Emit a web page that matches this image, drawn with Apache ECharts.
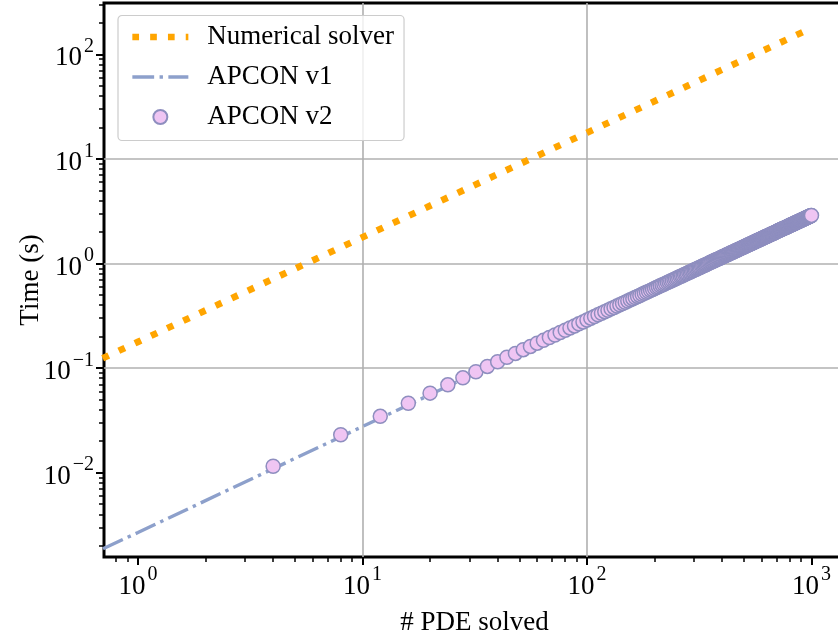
<!DOCTYPE html>
<html>
<head>
<meta charset="utf-8">
<script src="https://cdn.jsdelivr.net/npm/echarts@6/dist/echarts.min.js"></script>
<style>html,body{margin:0;padding:0;background:#fff}#c{width:838px;height:633px}</style>
</head>
<body>
<div id="c"></div>
<script>
// ---- data ----
const solverX = [0.5, 1, 10, 100, 1000];
const solverY = [0.089, 0.178, 1.78, 17.8, 178];
const v1X = [0.5, 1, 10, 100, 1000];
const v1Y = [0.00134, 0.00268, 0.0276, 0.284, 2.88];
const v2X = [4,8,12,16,20,24,28,32,36,40,44,48,52,56,60,64,68,72,76,80,84,88,92,96,100,
104,108,112,116,120,124,128,132,136,140,144,148,152,156,160,164,168,172,176,180,184,188,192,196,200,
204,208,212,216,220,224,228,232,236,240,244,248,252,256,260,264,268,272,276,280,284,288,292,296,300,
304,308,312,316,320,324,328,332,336,340,344,348,352,356,360,364,368,372,376,380,384,388,392,396,400,
404,408,412,416,420,424,428,432,436,440,444,448,452,456,460,464,468,472,476,480,484,488,492,496,500,
504,508,512,516,520,524,528,532,536,540,544,548,552,556,560,564,568,572,576,580,584,588,592,596,600,
604,608,612,616,620,624,628,632,636,640,644,648,652,656,660,664,668,672,676,680,684,688,692,696,700,
704,708,712,716,720,724,728,732,736,740,744,748,752,756,760,764,768,772,776,780,784,788,792,796,800,
804,808,812,816,820,824,828,832,836,840,844,848,852,856,860,864,868,872,876,880,884,888,892,896,900,
904,908,912,916,920,924,928,932,936,940,944,948,952,956,960,964,968,972,976,980,984,988,992,996,1000];
const v2Y = [0.01152,0.02304,0.03456,0.04608,0.0576,0.06912,0.08064,0.09216,0.1037,0.115,0.127,0.138,0.150,0.161,0.173,0.184,0.196,0.207,0.219,0.230,0.242,0.253,0.265,0.276,0.288,
0.300,0.311,0.323,0.334,0.346,0.357,0.369,0.380,0.392,0.403,0.415,0.426,0.438,0.449,0.461,0.472,0.484,0.495,0.507,0.518,0.530,0.541,0.553,0.564,0.576,
0.588,0.599,0.611,0.622,0.634,0.645,0.657,0.668,0.680,0.691,0.703,0.714,0.726,0.737,0.749,0.760,0.772,0.783,0.795,0.806,0.818,0.829,0.841,0.852,0.864,
0.876,0.887,0.899,0.910,0.922,0.933,0.945,0.956,0.968,0.979,0.991,1.002,1.014,1.025,1.037,1.048,1.060,1.071,1.083,1.094,1.106,1.117,1.129,1.140,1.152,
1.164,1.175,1.187,1.198,1.210,1.221,1.233,1.244,1.256,1.267,1.279,1.290,1.302,1.313,1.325,1.336,1.348,1.359,1.371,1.382,1.394,1.405,1.417,1.428,1.440,
1.452,1.463,1.475,1.486,1.498,1.509,1.521,1.532,1.544,1.555,1.567,1.578,1.590,1.601,1.613,1.624,1.636,1.647,1.659,1.670,1.682,1.693,1.705,1.716,1.728,
1.740,1.751,1.763,1.774,1.786,1.797,1.809,1.820,1.832,1.843,1.855,1.866,1.878,1.889,1.901,1.912,1.924,1.935,1.947,1.958,1.970,1.981,1.993,2.004,2.016,
2.028,2.039,2.051,2.062,2.074,2.085,2.097,2.108,2.120,2.131,2.143,2.154,2.166,2.177,2.189,2.200,2.212,2.223,2.235,2.246,2.258,2.269,2.281,2.292,2.304,
2.316,2.327,2.339,2.350,2.362,2.373,2.385,2.396,2.408,2.419,2.431,2.442,2.454,2.465,2.477,2.488,2.500,2.511,2.523,2.534,2.546,2.557,2.569,2.580,2.592,
2.604,2.615,2.627,2.638,2.650,2.661,2.673,2.684,2.696,2.707,2.719,2.730,2.742,2.753,2.765,2.776,2.788,2.799,2.811,2.822,2.834,2.845,2.857,2.868,2.880];
const xMajorTicks = [1, 10, 100, 1000];
const xMinorTicks = [0.8,0.9,2,3,4,5,6,7,8,9,20,30,40,50,60,70,80,90,200,300,400,500,600,700,800,900];
const yMajorTicks = [0.01, 0.1, 1, 10, 100];
const yMinorTicks = [0.002,0.003,0.004,0.005,0.006,0.007,0.008,0.009,0.02,0.03,0.04,0.05,0.06,0.07,0.08,0.09,
0.2,0.3,0.4,0.5,0.6,0.7,0.8,0.9,2,3,4,5,6,7,8,9,20,30,40,50,60,70,80,90,200,300];
const seriesNames = ['Numerical solver', 'APCON v1', 'APCON v2'];
const xName = '# PDE solved';
const yName = 'Time (s)';
const xMin = 0.7058, xMax = 1410, yMin = 0.001563, yMax = 309;

const FONT = '"Liberation Serif", "Times New Roman", serif';
const zip = (a, b) => a.map((v, i) => [v, b[i]]);
function powLabel(v) {
  const e = Math.round(Math.log10(v));
  return '{b|10}{s|' + (e < 0 ? '\u2212' + (-e) : String(e)) + '}';
}
const richLab = {
  b: { fontSize: 27, fontFamily: FONT, color: '#000', padding: [8, 0, 0, 0], verticalAlign: 'bottom' },
  s: { fontSize: 20, fontFamily: FONT, color: '#000', verticalAlign: 'top', padding: [0, 0, 0, 2] }
};

const chart = echarts.init(document.getElementById('c'), null, { renderer: 'canvas' });
chart.setOption({
  animation: false,
  backgroundColor: '#fff',
  grid: {
    left: 104, top: 3, width: 741, height: 554,
    show: true, borderColor: '#000', borderWidth: 3, backgroundColor: 'transparent',
    outerBoundsMode: 'none', containLabel: false
  },
  legend: {
    orient: 'vertical', left: 118, top: 15.5,
    padding: [8, 10, 10, 11],
    itemWidth: 56, itemHeight: 14, itemGap: 13,
    backgroundColor: 'rgba(255,255,255,0.8)', borderColor: '#cccccc', borderWidth: 1.2, borderRadius: 4,
    textStyle: { fontSize: 27, fontFamily: FONT, color: '#000', padding: [0, 0, 0, 14] },
    data: [
      { name: seriesNames[0], lineStyle: { width: 6.7 }, itemStyle: { opacity: 0 } },
      { name: seriesNames[1], lineStyle: { width: 3.4 }, itemStyle: { opacity: 0 } },
      { name: seriesNames[2] }
    ]
  },
  xAxis: [{
    type: 'log', logBase: 10, min: xMin, max: xMax, gridIndex: 0, position: 'bottom',
    name: xName, nameLocation: 'middle', nameGap: 52,
    nameTextStyle: { fontSize: 27, fontFamily: FONT, color: '#000' },
    axisLine: { show: false },
    axisTick: { show: true, customValues: xMajorTicks, length: 8, lineStyle: { color: '#000', width: 2 } },
    axisLabel: { show: true, customValues: xMajorTicks, margin: 8, formatter: powLabel, rich: richLab },
    splitLine: { show: true, showMinLine: false, showMaxLine: false, lineStyle: { color: '#b0b0b0', width: 1.6 } },
    minorTick: { show: false }
  }, {
    type: 'log', logBase: 10, min: xMin, max: xMax, gridIndex: 0, position: 'bottom',
    axisLine: { show: false },
    axisTick: { show: true, customValues: xMinorTicks, length: 5, lineStyle: { color: '#000', width: 1.5 } },
    axisLabel: { show: false },
    splitLine: { show: false }
  }],
  yAxis: [{
    type: 'log', logBase: 10, min: yMin, max: yMax, gridIndex: 0, position: 'left',
    name: yName, nameLocation: 'middle', nameGap: 60, nameMoveOverlap: false,
    nameTextStyle: { fontSize: 27, fontFamily: FONT, color: '#000' },
    axisLine: { show: false },
    axisTick: { show: true, customValues: yMajorTicks, length: 8, lineStyle: { color: '#000', width: 2 } },
    axisLabel: { show: true, customValues: yMajorTicks, margin: 10, formatter: powLabel, rich: richLab },
    splitLine: { show: true, showMinLine: false, showMaxLine: false, lineStyle: { color: '#b0b0b0', width: 1.6 } }
  }, {
    type: 'log', logBase: 10, min: yMin, max: yMax, gridIndex: 0, position: 'left',
    axisLine: { show: false },
    axisTick: { show: true, customValues: yMinorTicks, length: 5, lineStyle: { color: '#000', width: 1.5 } },
    axisLabel: { show: false },
    splitLine: { show: false }
  }],
  series: [{
    name: seriesNames[0], type: 'line', xAxisIndex: 0, yAxisIndex: 0,
    data: zip(solverX, solverY), symbol: 'none', clip: true, z: 2,
    lineStyle: { color: '#ffa500', width: 6.7, type: [6.7, 11.1], cap: 'butt' },
    itemStyle: { color: '#ffa500' }
  }, {
    name: seriesNames[1], type: 'line', xAxisIndex: 0, yAxisIndex: 0,
    data: zip(v1X, v1Y), symbol: 'none', clip: true, z: 2,
    lineStyle: { color: '#8da0cb', width: 3.4, type: [21.8, 5.4, 3.4, 5.4], cap: 'butt' },
    itemStyle: { color: '#8da0cb' }
  }, {
    name: seriesNames[2], type: 'scatter', xAxisIndex: 0, yAxisIndex: 0,
    data: zip(v2X, v2Y), symbol: 'circle', symbolSize: 14, clip: true, z: 3,
    itemStyle: { color: '#efc5f3', borderColor: '#8e8ebf', borderWidth: 1.5, opacity: 1 }
  }]
});
</script>
</body>
</html>
